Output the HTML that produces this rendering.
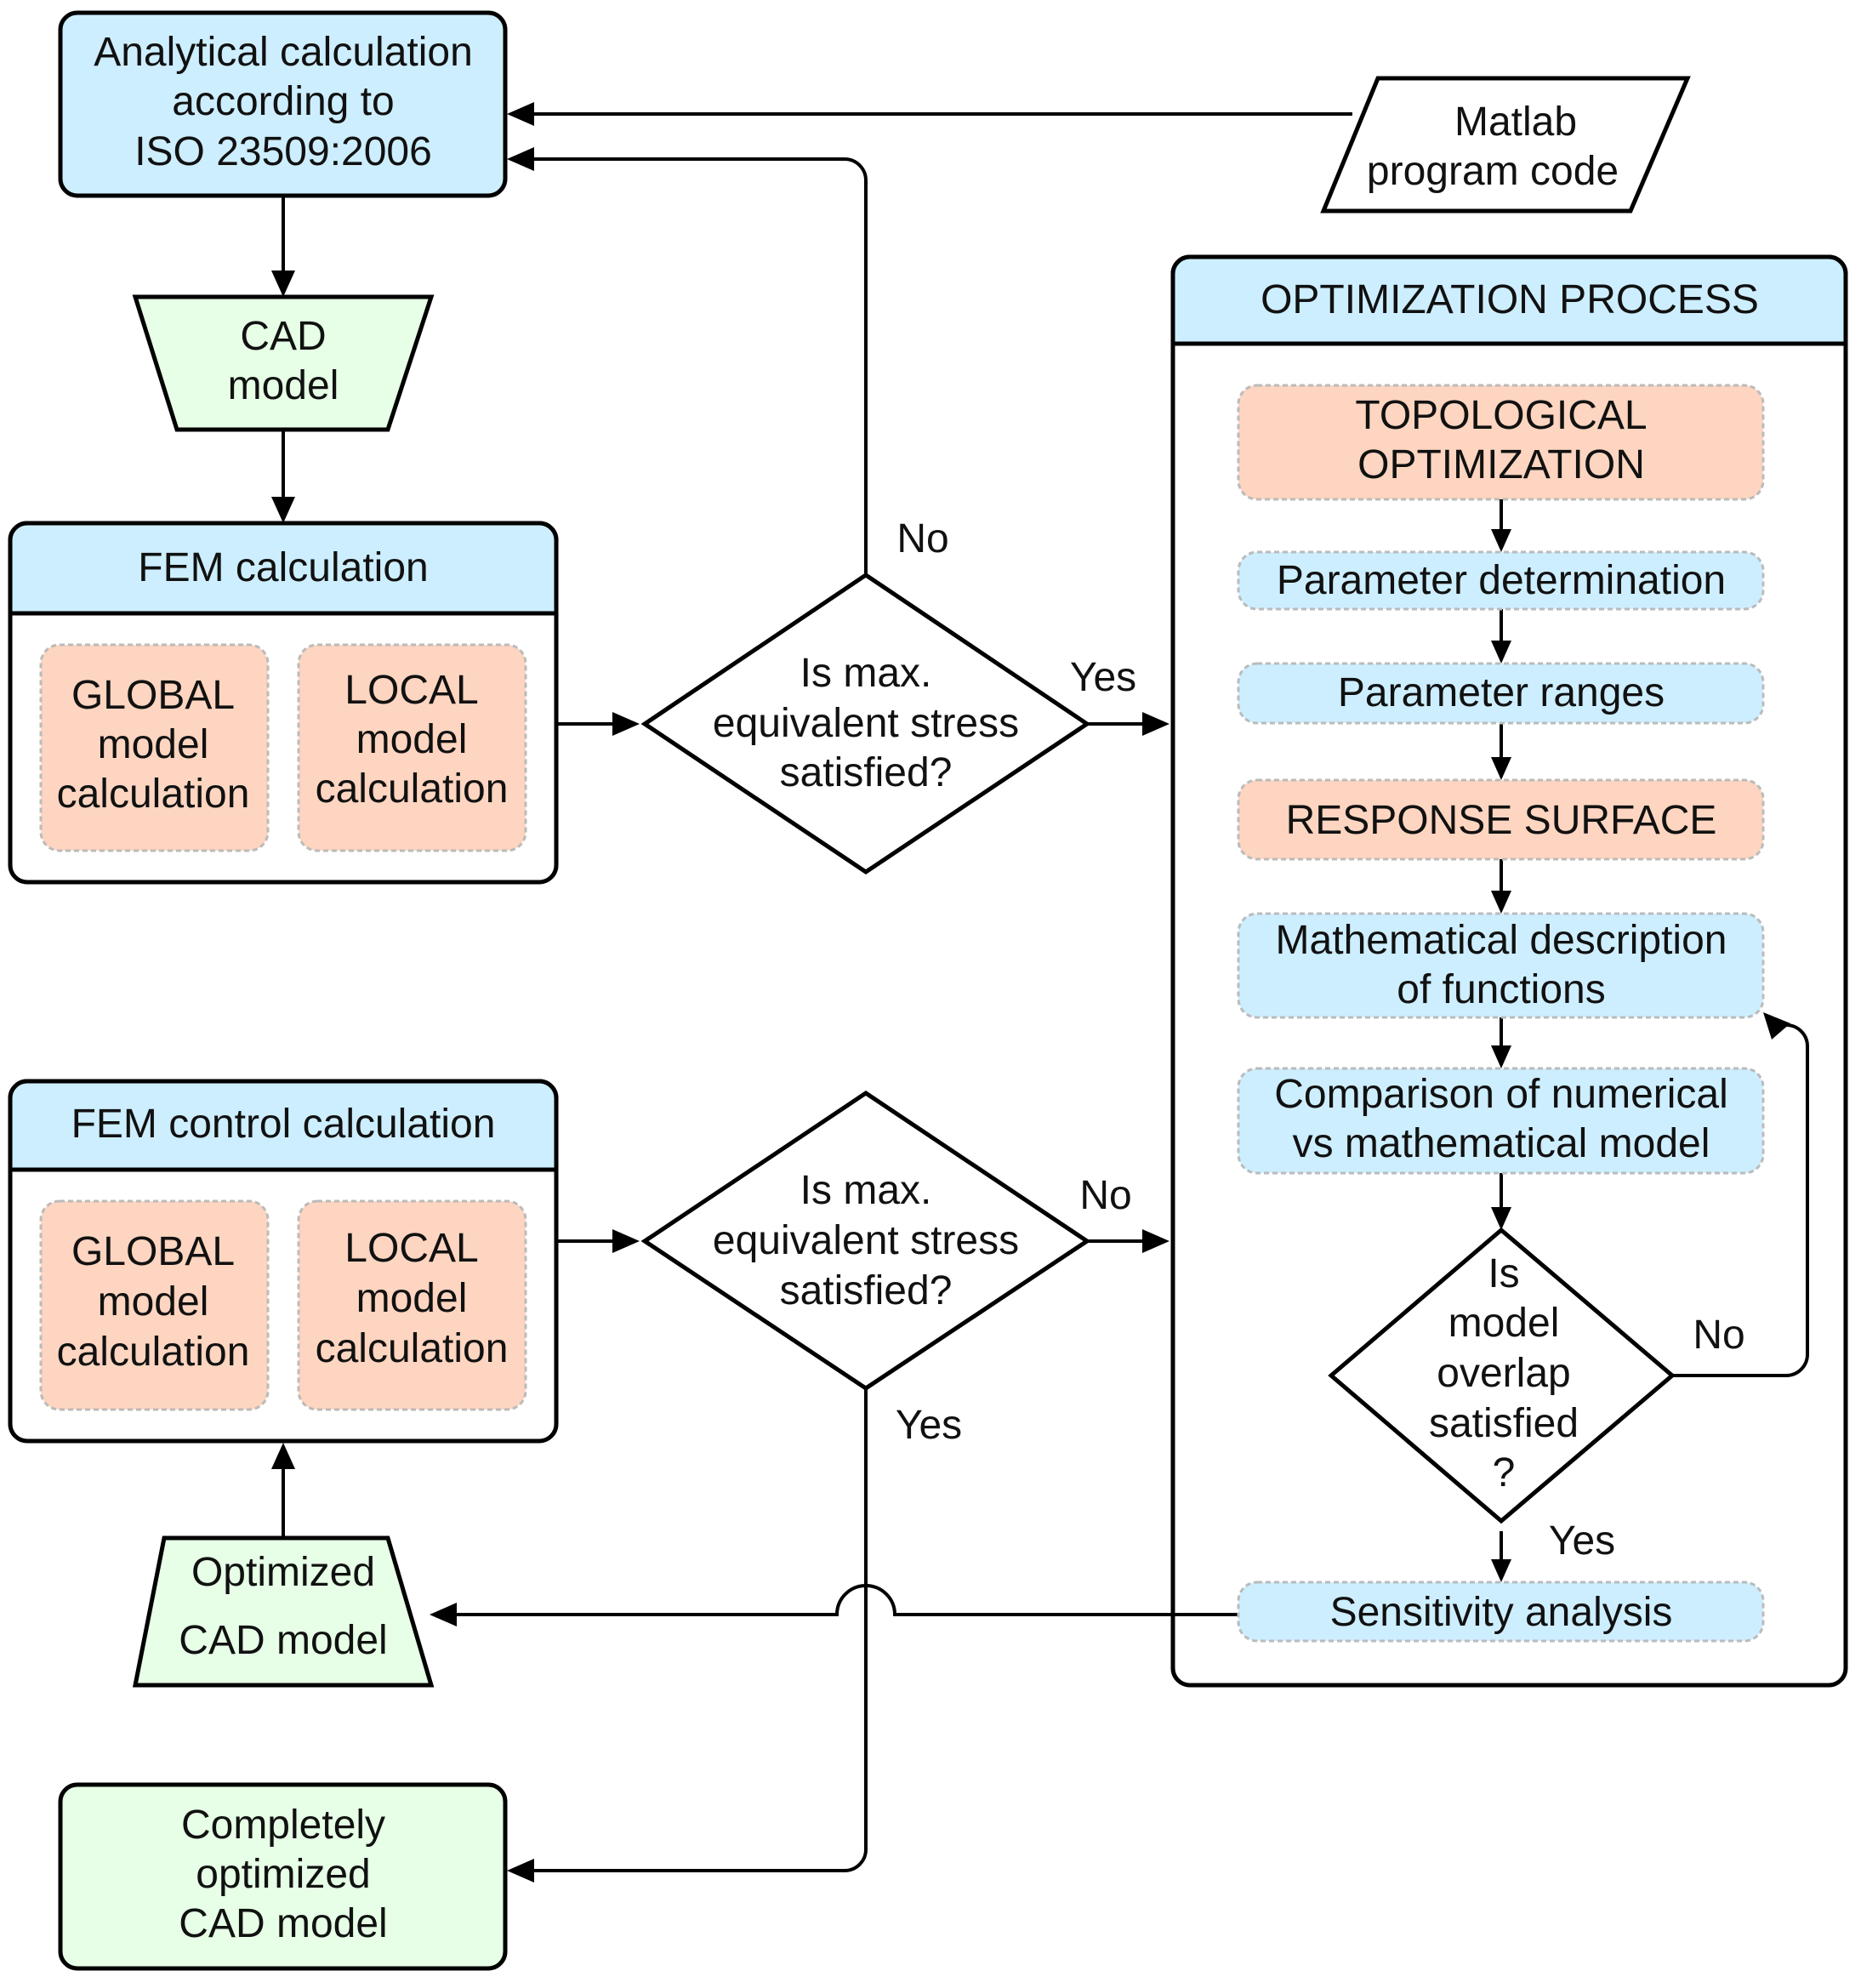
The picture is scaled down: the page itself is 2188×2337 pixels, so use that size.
<!DOCTYPE html>
<html><head><meta charset="utf-8"><style>
html,body{margin:0;padding:0;background:#fff}
svg{display:block}
text{font-family:"Liberation Sans",Arial,sans-serif;font-size:48px;fill:#111;text-anchor:middle}
</style></head><body>
<svg width="2188" height="2337" viewBox="0 0 2188 2337" xmlns="http://www.w3.org/2000/svg">
<g stroke="#000" stroke-width="5">
<rect x="71" y="15" width="523" height="215" rx="20" fill="#cdeeff"/>
<polygon points="1620,92 1984,92 1917,248 1556,248" fill="#fff"/>
<polygon points="159,349 507,349 456,505 208,505" fill="#e6ffe6"/>
<rect x="12" y="615" width="642" height="422" rx="20" fill="#fff"/>
<path d="M12 721 V635 a20 20 0 0 1 20 -20 H634 a20 20 0 0 1 20 20 V721 Z" fill="#cdeeff" stroke-linejoin="round"/>
<rect x="12" y="1271" width="642" height="423" rx="20" fill="#fff"/>
<path d="M12 1375 V1291 a20 20 0 0 1 20 -20 H634 a20 20 0 0 1 20 20 V1375 Z" fill="#cdeeff"/>
<polygon points="758,851 1018,676 1278,851 1018,1025" fill="#fff"/>
<polygon points="758,1459 1018,1285 1278,1459 1018,1632" fill="#fff"/>
<rect x="1379" y="302" width="791" height="1679" rx="20" fill="#fff"/>
<path d="M1379 404 V322 a20 20 0 0 1 20 -20 H2150 a20 20 0 0 1 20 20 V404 Z" fill="#cdeeff"/>
<polygon points="1565,1617 1765,1446 1966,1617 1765,1788" fill="#fff"/>
<polygon points="193,1808 456,1808 507,1981 159,1981" fill="#e6ffe6"/>
<rect x="71" y="2098" width="523" height="216" rx="20" fill="#e6ffe6"/>
</g>
<g fill="none" stroke="#000" stroke-width="4">
<line x1="1590" y1="134" x2="600" y2="134"/>
<path d="M1018 676 V212 a25 25 0 0 0 -25 -25 H600"/>
<line x1="333" y1="230" x2="333" y2="345"/>
<line x1="333" y1="505" x2="333" y2="610"/>
<line x1="654" y1="851" x2="745" y2="851"/>
<line x1="1278" y1="851" x2="1370" y2="851"/>
<line x1="654" y1="1459" x2="745" y2="1459"/>
<line x1="1278" y1="1459" x2="1370" y2="1459"/>
<path d="M1018 1632 V2174 a25 25 0 0 1 -25 25 H600"/>
<path d="M1456 1898 H1052 a34 34 0 0 0 -68 0 H510"/>
<line x1="333" y1="1808" x2="333" y2="1700"/>
<path d="M1966 1617 H2100 a25 25 0 0 0 25 -25 V1230 a25 25 0 0 0 -25 -25 L2080 1195"/>
<line x1="1765" y1="587" x2="1765" y2="645"/>
<line x1="1765" y1="716" x2="1765" y2="776"/>
<line x1="1765" y1="850" x2="1765" y2="913"/>
<line x1="1765" y1="1010" x2="1765" y2="1070"/>
<line x1="1765" y1="1196" x2="1765" y2="1252"/>
<line x1="1765" y1="1379" x2="1765" y2="1442"/>
<line x1="1765" y1="1800" x2="1765" y2="1856"/>
</g>
<g fill="#000">
<polygon points="596,134 628,120 628,148"/>
<polygon points="596,187 628,173 628,201"/>
<polygon points="333,349 319,318 347,318"/>
<polygon points="333,615 319,584 347,584"/>
<polygon points="752,851 720,837 720,865"/>
<polygon points="1375,851 1343,837 1343,865"/>
<polygon points="752,1459 720,1445 720,1473"/>
<polygon points="1375,1459 1343,1445 1343,1473"/>
<polygon points="596,2199 628,2185 628,2213"/>
<polygon points="505,1898 537,1884 537,1912"/>
<polygon points="333,1696 319,1727 347,1727"/>
<polygon points="2073,1190 2083,1222 2105,1203"/>
<polygon points="1765,649 1753,622 1777,622"/>
<polygon points="1765,780 1753,753 1777,753"/>
<polygon points="1765,917 1753,890 1777,890"/>
<polygon points="1765,1074 1753,1047 1777,1047"/>
<polygon points="1765,1256 1753,1229 1777,1229"/>
<polygon points="1765,1446 1753,1419 1777,1419"/>
<polygon points="1765,1860 1753,1833 1777,1833"/>
</g>
<g stroke="#bbb" stroke-width="3" stroke-dasharray="6 4">
<rect x="48" y="758" width="267" height="242" rx="22" fill="#fdd5c0"/>
<rect x="351" y="758" width="267" height="242" rx="22" fill="#fdd5c0"/>
<rect x="48" y="1412" width="267" height="245" rx="22" fill="#fdd5c0"/>
<rect x="351" y="1412" width="267" height="245" rx="22" fill="#fdd5c0"/>
<rect x="1456" y="453" width="617" height="134" rx="22" fill="#fdd5c0"/>
<rect x="1456" y="649" width="617" height="67" rx="22" fill="#cdeeff"/>
<rect x="1456" y="780" width="617" height="70" rx="22" fill="#cdeeff"/>
<rect x="1456" y="917" width="617" height="93" rx="22" fill="#fdd5c0"/>
<rect x="1456" y="1074" width="617" height="122" rx="22" fill="#cdeeff"/>
<rect x="1456" y="1256" width="617" height="123" rx="22" fill="#cdeeff"/>
<rect x="1456" y="1860" width="617" height="69" rx="22" fill="#cdeeff"/>
</g>
<text x="333" y="77">Analytical calculation</text>
<text x="333" y="135">according to</text>
<text x="333" y="194">ISO 23509:2006</text>
<text x="1782" y="159">Matlab</text>
<text x="1755" y="217">program code</text>
<text x="333" y="411">CAD</text>
<text x="333" y="469">model</text>
<text x="333" y="683">FEM calculation</text>
<text x="180" y="833">GLOBAL</text>
<text x="180" y="891">model</text>
<text x="180" y="949">calculation</text>
<text x="484" y="827">LOCAL</text>
<text x="484" y="885">model</text>
<text x="484" y="943">calculation</text>
<text x="1018" y="807">Is max.</text>
<text x="1018" y="866">equivalent stress</text>
<text x="1018" y="924">satisfied?</text>
<text x="1085" y="649">No</text>
<text x="1297" y="812">Yes</text>
<text x="1775" y="368">OPTIMIZATION PROCESS</text>
<text x="1765" y="504">TOPOLOGICAL</text>
<text x="1765" y="562">OPTIMIZATION</text>
<text x="1765" y="698">Parameter determination</text>
<text x="1765" y="830">Parameter ranges</text>
<text x="1765" y="980">RESPONSE SURFACE</text>
<text x="1765" y="1121">Mathematical description</text>
<text x="1765" y="1179">of functions</text>
<text x="1765" y="1302">Comparison of numerical</text>
<text x="1765" y="1360">vs mathematical model</text>
<text x="1768" y="1513">Is</text>
<text x="1768" y="1571">model</text>
<text x="1768" y="1630">overlap</text>
<text x="1768" y="1689">satisfied</text>
<text x="1768" y="1747">?</text>
<text x="2021" y="1585">No</text>
<text x="1860" y="1827">Yes</text>
<text x="1765" y="1911">Sensitivity analysis</text>
<text x="333" y="1337">FEM control calculation</text>
<text x="180" y="1487">GLOBAL</text>
<text x="180" y="1546">model</text>
<text x="180" y="1605">calculation</text>
<text x="484" y="1483">LOCAL</text>
<text x="484" y="1542">model</text>
<text x="484" y="1601">calculation</text>
<text x="1018" y="1415">Is max.</text>
<text x="1018" y="1474">equivalent stress</text>
<text x="1018" y="1533">satisfied?</text>
<text x="1300" y="1421">No</text>
<text x="1092" y="1691">Yes</text>
<text x="333" y="1864">Optimized</text>
<text x="333" y="1944">CAD model</text>
<text x="333" y="2161">Completely</text>
<text x="333" y="2219">optimized</text>
<text x="333" y="2277">CAD model</text>
</svg>
</body></html>
